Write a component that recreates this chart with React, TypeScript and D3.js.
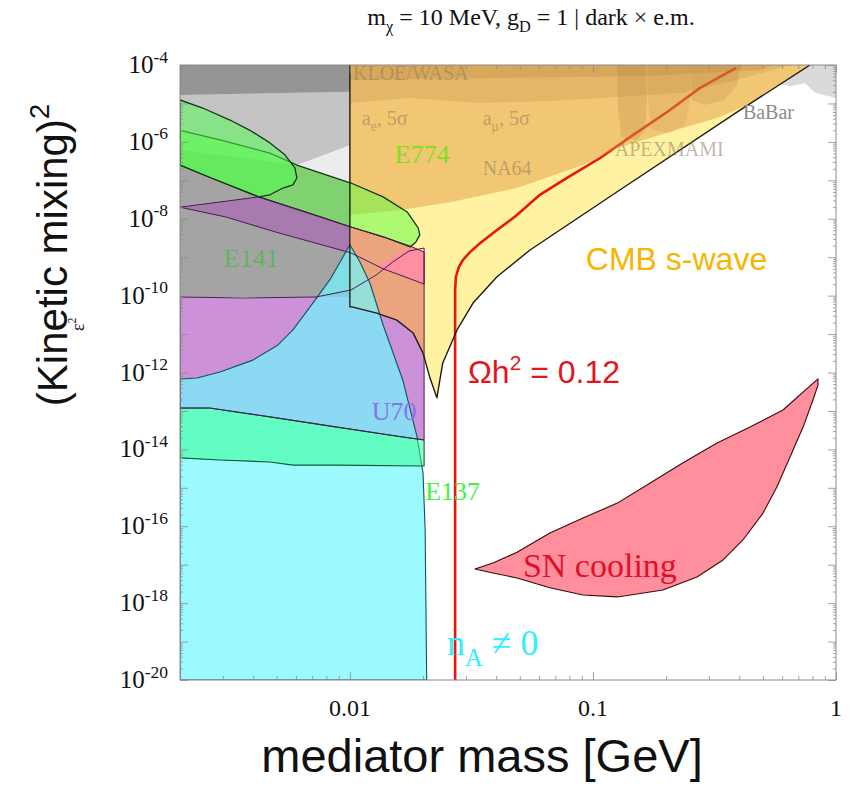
import React, { useEffect, useRef } from "react";
import * as d3 from "d3";

type Pt = [number, number];
type Part = [string, ("sub" | "sup")?];

// every outline is [mediator mass in GeV, epsilon^2]
const grayLeft: Pt[] = [[0.002, 1e-4], [0.01, 1e-4], [0.01, 9.2e-11], [0.002, 9.2e-11]];
const grayLeftTop: Pt[] = [[0.002, 1e-4], [0.01, 1e-4], [0.01, 2.0e-5], [0.002, 1.66e-5]];
const grayLeftLight: Pt[] = [[0.002, 1.66e-5], [0.01, 2.0e-5], [0.01, 8.3e-7], [0.00605, 2.5e-7], [0.002, 6.2e-7]];
const grayWedge: Pt[] = [[0.00605, 2.5e-7], [0.01, 8.3e-7], [0.01, 8.5e-8]];
const babar: Pt[] = [[0.561, 3.6e-5], [0.7, 1e-4], [1.0, 1e-4], [1.0, 1.39e-5], [0.82, 1.9e-5], [0.745, 3.4e-5], [0.647, 2.8e-5]];

const cmbSwave: Pt[] = [
  [0.01, 1e-4], [0.782, 1e-4], [0.403, 6.7e-6], [0.129, 5.6e-8], [0.0551, 1.54e-9], [0.0403, 3.1e-10],
  [0.0321, 6.4e-11], [0.0276, 1.28e-11], [0.0241, 1.77e-12], [0.0228, 2.2e-13], [0.0213, 7.6e-13],
  [0.02, 3.2e-12], [0.0182, 1.07e-11], [0.0156, 2.3e-11], [0.0129, 3.5e-11], [0.0102, 5.1e-11], [0.01, 5.1e-11],
];

const visibleTan: Pt[] = [
  [0.01, 1e-4], [0.782, 1e-4], [0.422, 8.6e-6], [0.324, 4.2e-6], [0.234, 2.3e-6], [0.172, 1.26e-6],
  [0.126, 6.9e-7], [0.091, 2.5e-7], [0.0487, 6.3e-8], [0.0258, 2.7e-8], [0.0161, 1.7e-8], [0.01, 1.25e-8],
];
const tanBand: Pt[] = [
  [0.01, 1e-4], [0.647, 1e-4], [0.392, 4.1e-5], [0.234, 1.9e-5], [0.126, 1.47e-5], [0.0665, 1.16e-5],
  [0.0343, 1.03e-5], [0.0177, 1.39e-5], [0.01, 1.03e-5],
];
const tanTop: Pt[] = [[0.01, 1e-4], [0.55, 1e-4], [0.486, 7.4e-5], [0.172, 5.2e-5], [0.0414, 4.6e-5], [0.01, 4.1e-5]];
const apex1: Pt[] = [[0.126, 1e-4], [0.164, 1e-4], [0.167, 1.23e-5], [0.164, 2.0e-6], [0.152, 1.12e-6], [0.131, 1.26e-6], [0.127, 6.7e-6]];
const apex2: Pt[] = [[0.167, 1e-4], [0.251, 1e-4], [0.251, 1.23e-5], [0.239, 2.75e-6], [0.207, 1.7e-6], [0.175, 2.0e-6], [0.168, 1.23e-5]];
const mami: Pt[] = [[0.251, 1e-4], [0.403, 1e-4], [0.392, 3.0e-5], [0.349, 1.23e-5], [0.289, 9.1e-6], [0.255, 1.23e-5]];

const u70: Pt[] = [
  [0.002, 9.2e-11], [0.00363, 8.7e-11], [0.00725, 9.2e-11], [0.0101, 1.4e-10], [0.0128, 3.4e-10], [0.015, 7.5e-10],
  [0.0175, 1.45e-9], [0.0202, 1.73e-9], [0.0202, 1.76e-14], [0.0165, 2.1e-14], [0.00884, 3.8e-14],
  [0.00469, 7.0e-14], [0.00265, 1.19e-13], [0.002, 1.19e-13],
];
const e141: Pt[] = [
  [0.002, 2.0e-8], [0.00422, 3.7e-8], [0.00678, 1.41e-8], [0.0101, 6.1e-9], [0.0137, 3.4e-9], [0.0175, 2.0e-9],
  [0.0202, 1.36e-9], [0.0202, 2.0e-10], [0.0137, 5.0e-10], [0.0101, 1.29e-9], [0.00496, 4.5e-9], [0.00309, 1.11e-8],
];
const salmon: Pt[] = [
  [0.0101, 6.1e-9], [0.0137, 3.4e-9], [0.0175, 2.0e-9], [0.0202, 1.36e-9], [0.0202, 3.2e-12],
  [0.0182, 1.07e-11], [0.0156, 2.3e-11], [0.0129, 3.5e-11], [0.0101, 5.1e-11],
];
const pink: Pt[] = [[0.0128, 5.2e-10], [0.015, 1.01e-9], [0.0175, 1.73e-9], [0.0202, 1.36e-9], [0.0202, 2.0e-10], [0.015, 3.9e-10]];

const nA: Pt[] = [
  [0.002, 1e-20], [0.002, 6.8e-13], [0.00235, 7.2e-13], [0.00292, 1.03e-12], [0.00399, 2.1e-12], [0.00506, 5.2e-12],
  [0.00583, 1.28e-11], [0.00704, 6.4e-11], [0.00828, 2.6e-10], [0.01, 2.1e-9], [0.011, 7.5e-10], [0.0121, 2.1e-10],
  [0.0137, 1.72e-11], [0.0165, 6.4e-13], [0.0189, 2.1e-14], [0.02, 2.4e-15], [0.0204, 8.0e-17], [0.0207, 1e-20],
];
const e137: Pt[] = [
  [0.002, 1.19e-13], [0.00265, 1.19e-13], [0.00469, 7.0e-14], [0.00884, 3.8e-14], [0.0165, 2.1e-14], [0.0202, 1.76e-14],
  [0.0202, 3.7e-15], [0.00884, 3.9e-15], [0.00583, 3.9e-15], [0.00469, 4.7e-15], [0.00292, 5.3e-15], [0.002, 6.0e-15],
];
const e774: Pt[] = [
  [0.002, 2.0e-6], [0.00292, 1.12e-6], [0.00469, 5.1e-7], [0.00605, 2.5e-7], [0.0101, 8.5e-8], [0.0137, 3.7e-8],
  [0.0172, 1.5e-8], [0.0191, 5.8e-9], [0.0194, 3.8e-9], [0.0187, 2.5e-9], [0.0177, 1.84e-9], [0.0137, 3.4e-9],
  [0.0101, 6.1e-9], [0.00678, 1.41e-8], [0.00422, 3.7e-8], [0.00263, 1.22e-7], [0.002, 2.5e-7],
];
const greenBlob: Pt[] = [
  [0.002, 1.23e-5], [0.00248, 7.6e-6], [0.00321, 3.7e-6], [0.00388, 2.0e-6], [0.00469, 9.4e-7], [0.0054, 4.6e-7],
  [0.00594, 2.1e-7], [0.00605, 1.15e-7], [0.00583, 7.6e-8], [0.0053, 6.3e-8], [0.00469, 4.2e-8], [0.00422, 3.7e-8],
  [0.00263, 1.22e-7], [0.002, 2.5e-7],
];
const relic: Pt[] = [
  [0.0271, 1e-20], [0.0271, 1.4e-10], [0.0273, 3.1e-10], [0.0281, 5.6e-10], [0.0292, 8.5e-10], [0.0312, 1.36e-9],
  [0.0343, 2.3e-9], [0.0403, 5.1e-9], [0.0487, 1.25e-8], [0.0605, 4.2e-8], [0.0782, 1.15e-7], [0.107, 3.8e-7],
  [0.146, 1.5e-6], [0.202, 6.0e-6], [0.275, 2.5e-5], [0.388, 8.4e-5],
];
const snCooling: Pt[] = [
  [0.0327, 7.7e-18], [0.0388, 1.11e-17], [0.0487, 2.1e-17], [0.0665, 6.7e-17], [0.091, 1.64e-16], [0.126, 4.0e-16],
  [0.172, 1.34e-15], [0.234, 4.4e-15], [0.324, 1.47e-14], [0.443, 3.8e-14], [0.605, 1.06e-13], [0.843, 6.8e-13],
  [0.843, 4.7e-13], [0.804, 1.93e-13], [0.732, 3.8e-14], [0.647, 6.3e-15], [0.571, 1.05e-15], [0.501, 2.2e-16],
  [0.414, 4.4e-17], [0.343, 1.33e-17], [0.268, 4.8e-18], [0.194, 2.2e-18], [0.126, 1.45e-18], [0.091, 1.63e-18],
  [0.0665, 2.5e-18], [0.0487, 4.5e-18], [0.0388, 6.1e-18],
];

const xTickVals = [0.01, 0.1, 1];
const xTickLabels = ["0.01", "0.1", "1"];
const yTickExps = [-4, -6, -8, -10, -12, -14, -16, -18, -20];

const SERIF = "'Liberation Serif', 'Times New Roman', serif";
const SANS = "'Liberation Sans', Arial, sans-serif";
const GRAYTXT = "#8f7a5a";

const labels: { parts: Part[]; at: Pt; color: string; size: number; font: string; opacity?: number }[] = [
  { parts: [["KLOE/WASA"]], at: [0.0103, 4.1e-5], color: GRAYTXT, size: 20, font: SERIF, opacity: 0.5 },
  { parts: [["a"], ["e", "sub"], [", 5σ"]], at: [0.0112, 2.75e-6], color: GRAYTXT, size: 20, font: SERIF, opacity: 0.55 },
  { parts: [["a"], ["μ", "sub"], [", 5σ"]], at: [0.0352, 2.75e-6], color: GRAYTXT, size: 20, font: SERIF, opacity: 0.55 },
  { parts: [["NA64"]], at: [0.0352, 1.37e-7], color: GRAYTXT, size: 20, font: SERIF, opacity: 0.55 },
  { parts: [["APEXMAMI"]], at: [0.123, 4.3e-7], color: GRAYTXT, size: 20, font: SERIF, opacity: 0.55 },
  { parts: [["BaBar"]], at: [0.414, 3.9e-6], color: "#8c8c8c", size: 20, font: SERIF },
  { parts: [["E774"]], at: [0.0153, 2.8e-7], color: "#84dd22", size: 26, font: SERIF },
  { parts: [["E141"]], at: [0.00303, 5.6e-10], color: "#52b852", size: 26, font: SERIF, opacity: 0.85 },
  { parts: [["U70"]], at: [0.0123, 5.8e-14], color: "#8a72ec", size: 26, font: SERIF },
  { parts: [["E137"]], at: [0.0204, 4.8e-16], color: "#44f044", size: 26, font: SERIF },
  { parts: [["Ωh"], ["2", "sup"], [" = 0.12"]], at: [0.0306, 5.3e-13], color: "#e3141b", size: 32, font: SANS },
  { parts: [["CMB s-wave"]], at: [0.0935, 4.6e-10], color: "#f7b500", size: 32, font: SANS },
  { parts: [["SN cooling"]], at: [0.0515, 4.8e-18], color: "#e0102c", size: 34, font: SERIF },
  { parts: [["n"], ["A", "sub"], [" ≠ 0"]], at: [0.0251, 4.5e-20], color: "#33eeff", size: 36, font: SERIF },
];

const W = 856;
const H = 789;

function addParts(text: any, parts: Part[], size: number, supScale = 0.65) {
  let shift = 0;
  parts.forEach(([t, mode]) => {
    const ts = text.append("tspan").text(t);
    let target = 0;
    if (mode === "sub") { target = size * 0.3; ts.attr("font-size", size * 0.68); }
    if (mode === "sup") { target = -size * 0.42; ts.attr("font-size", size * supScale); }
    if (target !== shift) ts.attr("dy", target - shift);
    shift = target;
  });
}

export default function App() {
  const ref = useRef<SVGSVGElement>(null);

  useEffect(() => {
    const svg = d3.select(ref.current);
    svg.selectAll("*").remove();

    const x = d3.scaleLog().domain([0.002, 1]).range([180, 836]);
    const y = d3.scaleLog().domain([1e-20, 1e-4]).range([680, 65]);
    const [x0, x1] = x.range();
    const [y0, y1] = y.range();

    const line = d3.line<Pt>().x(d => x(d[0])).y(d => y(d[1]));
    const shape = (pts: Pt[]) => line(pts) + "Z";

    svg.append("rect").attr("width", W).attr("height", H).attr("fill", "#fff");

    svg.append("clipPath").attr("id", "plot-clip")
      .append("rect").attr("x", x0).attr("y", y1).attr("width", x1 - x0).attr("height", y0 - y1);

    const plot = svg.append("g").attr("clip-path", "url(#plot-clip)");

    const fill = (pts: Pt[], color: string, opacity = 1, stroke = "none", sw = 1) =>
      plot.append("path").attr("d", shape(pts)).attr("fill", color).attr("fill-opacity", opacity)
        .attr("stroke", stroke).attr("stroke-width", sw).attr("stroke-linejoin", "round");

    const outline = (pts: Pt[], color: string, sw = 1, closed = true) =>
      plot.append("path").attr("d", closed ? shape(pts) : line(pts)).attr("fill", "none")
        .attr("stroke", color).attr("stroke-width", sw).attr("stroke-linejoin", "round");

    // gray: existing visible-decay bounds
    fill(grayLeft, "#a4a4a4");
    fill(grayLeftTop, "#959595");
    fill(grayLeftLight, "#c4c4c4");
    fill(grayWedge, "#ececec");
    fill(babar, "#dadada");

    // purple beam dump regions
    fill(u70, "#ac48bc", 0.6);
    fill(e141, "#ac48bc", 0.45);

    // CMB s-wave (yellow)
    fill(cmbSwave, "#fff3a3");
    fill(salmon, "#eca47f");
    fill(pink, "#ff8fa0");

    // relic line
    plot.append("path").attr("d", line(relic)).attr("fill", "none")
      .attr("stroke", "#e8160c").attr("stroke-width", 2.6);

    // gray bounds seen through yellow
    fill(visibleTan, "rgb(225,148,62)", 0.46);
    fill(tanBand, "rgb(180,115,55)", 0.2);
    fill(tanTop, "rgb(170,110,50)", 0.2);
    fill(apex1, "rgb(175,120,60)", 0.22);
    fill(apex2, "rgb(175,120,60)", 0.15);
    fill(mami, "rgb(175,120,60)", 0.2);

    // cyan / teal / green
    fill(nA, "#70f8ff", 0.7, "#0d5560", 1.1);
    fill(e137, "#2bff8a", 0.5, "#0d5a35", 1.1);
    fill(e774, "#5cff3c", 0.5, "#143814", 1.3);
    fill(greenBlob, "#4cff4c", 0.5, "#143814", 1.3);

    outline(e141, "#4a1c52", 1);
    outline(u70, "#4a1c52", 1);

    // CMB boundary
    outline([...cmbSwave.slice(1), cmbSwave[0]], "#1f1a14", 1.4, false);

    // SN cooling
    fill(snCooling, "#ff8f9c", 1, "#3a0a0a", 1.1);

    // labels
    labels.forEach(l => {
      const t = plot.append("text")
        .attr("x", x(l.at[0])).attr("y", y(l.at[1]))
        .attr("font-family", l.font).attr("font-size", l.size)
        .attr("fill", l.color).attr("fill-opacity", l.opacity ?? 1);
      addParts(t, l.parts, l.size);
    });

    // frame and ticks
    const tickColor = "#8c8c8c";
    const xMinor = x.ticks().filter(v => !xTickVals.includes(v));
    const yMajor = d3.range(-20, -3).map(e => Math.pow(10, e));
    const yMinor = d3.range(-20, -4).flatMap(e => d3.range(2, 10).map(k => k * Math.pow(10, e)));

    const axes = svg.append("g").attr("class", "frame-ticks");
    const styleAxis = (g: any) => {
      g.select(".domain").remove();
      g.selectAll("line").attr("stroke", tickColor).attr("stroke-width", 0.8);
      g.selectAll("text").remove();
    };
    axes.append("g").attr("transform", `translate(0,${y0})`)
      .call(d3.axisBottom(x).tickValues(xTickVals).tickSize(-8)).call(styleAxis);
    axes.append("g").attr("transform", `translate(0,${y0})`)
      .call(d3.axisBottom(x).tickValues(xMinor).tickSize(-4)).call(styleAxis);
    axes.append("g").attr("transform", `translate(0,${y1})`)
      .call(d3.axisTop(x).tickValues(xTickVals).tickSize(-8)).call(styleAxis);
    axes.append("g").attr("transform", `translate(0,${y1})`)
      .call(d3.axisTop(x).tickValues(xMinor).tickSize(-4)).call(styleAxis);
    axes.append("g").attr("transform", `translate(${x0},0)`)
      .call(d3.axisLeft(y).tickValues(yMajor).tickSize(-8)).call(styleAxis);
    axes.append("g").attr("transform", `translate(${x0},0)`)
      .call(d3.axisLeft(y).tickValues(yMinor).tickSize(-3)).call(styleAxis);
    axes.append("g").attr("transform", `translate(${x1},0)`)
      .call(d3.axisRight(y).tickValues(yMajor).tickSize(-8)).call(styleAxis);
    axes.append("g").attr("transform", `translate(${x1},0)`)
      .call(d3.axisRight(y).tickValues(yMinor).tickSize(-3)).call(styleAxis);

    svg.append("rect").attr("x", x0).attr("y", y1).attr("width", x1 - x0).attr("height", y0 - y1)
      .attr("fill", "none").attr("stroke", tickColor).attr("stroke-width", 1);

    // tick labels
    xTickVals.forEach((v, i) => {
      svg.append("text").attr("x", x(v)).attr("y", y0 + 36).attr("text-anchor", "middle")
        .attr("font-family", SERIF).attr("font-size", 24).attr("fill", "#111").text(xTickLabels[i]);
    });
    yTickExps.forEach(e => {
      const t = svg.append("text").attr("x", x0 - 12).attr("y", y(Math.pow(10, e)) + 8)
        .attr("text-anchor", "end").attr("font-family", SERIF).attr("font-size", 25).attr("fill", "#111");
      addParts(t, [["10"], ["-" + Math.abs(e), "sup"]], 25, 0.7);
    });

    // titles
    const title = svg.append("text").attr("x", 531).attr("y", 25).attr("text-anchor", "middle")
      .attr("font-family", SERIF).attr("font-size", 24).attr("fill", "#111");
    addParts(title, [["m"], ["χ", "sub"], [" = 10 MeV, g"], ["D", "sub"], [" = 1 | dark × e.m."]], 24);

    svg.append("text").attr("x", (x0 + x1) / 2 - 26).attr("y", 772).attr("text-anchor", "middle")
      .attr("font-family", SANS).attr("font-size", 47).attr("fill", "#111").text("mediator mass [GeV]");

    const ylab = svg.append("text").attr("transform", "translate(67,255) rotate(-90)")
      .attr("text-anchor", "middle").attr("font-family", SANS).attr("font-size", 42).attr("fill", "#111");
    addParts(ylab, [["(Kinetic mixing)"], ["2", "sup"]], 42);

    const eps = svg.append("text").attr("transform", "translate(84,331) rotate(-90)")
      .attr("font-family", SERIF).attr("font-size", 18).attr("fill", "#111");
    addParts(eps, [["ε"], ["2", "sup"]], 18);
  }, []);

  return (
    <svg ref={ref} width={W} height={H}
      style={{ position: "absolute", left: 0, top: 0, display: "block" }} />
  );
}
